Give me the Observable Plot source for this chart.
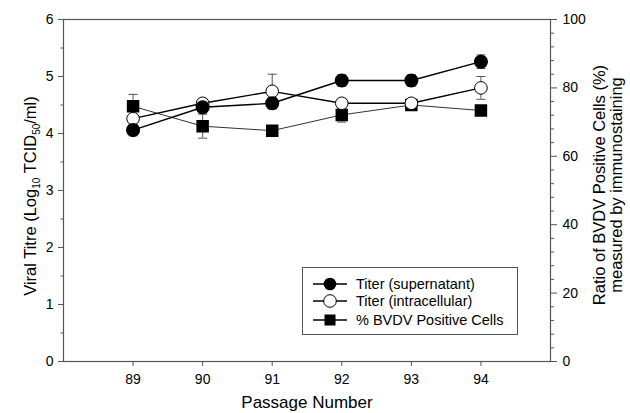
<!DOCTYPE html>
<html>
<head>
<meta charset="utf-8">
<script src="https://cdn.jsdelivr.net/npm/d3@7"></script>
<script src="https://cdn.jsdelivr.net/npm/@observablehq/plot@0.6"></script>
<style>
  html, body { margin: 0; padding: 0; background: #fff; }
  #chart { width: 630px; height: 413px; }
</style>
</head>
<body>
<div id="chart"></div>
<script>
// ---- data ----
const passages = [89, 90, 91, 92, 93, 94];
const titerSup = [4.06, 4.46, 4.53, 4.93, 4.93, 5.26];
const titerSupErr = [0.1, 0.1, 0.1, 0.1, 0.1, 0.12];
const titerInt = [4.26, 4.53, 4.74, 4.53, 4.53, 4.80];
const titerIntErr = [0.05, 0.08, 0.3, 0.08, 0.08, 0.2];
const pctPos = [74.6, 68.8, 67.5, 72.1, 75.0, 73.4];
const pctPosErr = [3.5, 3.5, 0.5, 2.1, 1.0, 0.3];
const xTicks = [89, 90, 91, 92, 93, 94];
const leftTicks = [0, 1, 2, 3, 4, 5, 6];
const rightTicks = [0, 20, 40, 60, 80, 100];
const legendLabels = ["Titer (supernatant)", "Titer (intracellular)", "% BVDV Positive Cells"];

const LEFT_MAX = 6, RIGHT_MAX = 100;
const toLeft = p => p * LEFT_MAX / RIGHT_MAX;

const sup = passages.map((x, i) => ({x, y: titerSup[i], lo: titerSup[i] - titerSupErr[i], hi: titerSup[i] + titerSupErr[i]}));
const intra = passages.map((x, i) => ({x, y: titerInt[i], lo: titerInt[i] - titerIntErr[i], hi: titerInt[i] + titerIntErr[i]}));
const pct = passages.map((x, i) => ({x, y: toLeft(pctPos[i]), lo: toLeft(pctPos[i] - pctPosErr[i]), hi: toLeft(pctPos[i] + pctPosErr[i])}));

const capSymbol = { draw(ctx, size) { const w = Math.sqrt(size / Math.PI); ctx.moveTo(-w, 0); ctx.lineTo(w, 0); } };

const errMarks = (data) => [
  Plot.ruleX(data, {x: "x", y1: "lo", y2: "hi", stroke: "#555", strokeWidth: 1}),
  Plot.dot(data, {x: "x", y: "lo", symbol: capSymbol, r: 4.5, stroke: "#555", strokeWidth: 1}),
  Plot.dot(data, {x: "x", y: "hi", symbol: capSymbol, r: 4.5, stroke: "#555", strokeWidth: 1})
];

const FONT = "'Liberation Sans', Arial, sans-serif";
const leftMinor = d3.range(0.5, 6, 1);
const rightMinor = d3.range(0, 101, 4).filter(v => v % 20 !== 0).map(toLeft);

const plot = Plot.plot({
  width: 630,
  height: 413,
  marginLeft: 63,
  marginRight: 80,
  marginTop: 19,
  marginBottom: 52,
  style: { fontFamily: FONT, fontSize: "14px", color: "#000", background: "#fff" },
  x: { domain: [88, 95] },
  y: { domain: [0, LEFT_MAX] },
  marks: [
    Plot.frame({stroke: "#555", strokeWidth: 1.2}),
    Plot.axisX(xTicks, {anchor: "bottom", tickSize: 5, tickPadding: 8, stroke: "#555", label: null, fontSize: 14, tickFormat: d => String(d)}),
    Plot.axisY(leftTicks, {anchor: "left", tickSize: 5, tickPadding: 5, stroke: "#555", label: null, fontSize: 14, tickFormat: d => String(d)}),
    Plot.axisY(leftMinor, {anchor: "left", tickSize: 2.5, stroke: "#555", label: null, tickFormat: () => ""}),
    Plot.axisY(rightTicks.map(toLeft), {anchor: "right", tickSize: 6, tickPadding: 6, stroke: "#555", label: null, fontSize: 14, tickFormat: d => String(Math.round(d * RIGHT_MAX / LEFT_MAX))}),
    Plot.axisY(rightMinor, {anchor: "right", tickSize: 3, stroke: "#555", label: null, tickFormat: () => ""}),
    ...errMarks(pct),
    ...errMarks(intra),
    ...errMarks(sup),
    Plot.line(pct, {x: "x", y: "y", stroke: "#333", strokeWidth: 1}),
    Plot.line(intra, {x: "x", y: "y", stroke: "#000", strokeWidth: 1.4}),
    Plot.line(sup, {x: "x", y: "y", stroke: "#000", strokeWidth: 1.4}),
    Plot.dot(pct, {x: "x", y: "y", symbol: "square", r: 6.2, fill: "#000", stroke: "#000"}),
    Plot.dot(intra, {x: "x", y: "y", symbol: "circle", r: 6.3, fill: "#fff", stroke: "#000", strokeWidth: 1}),
    Plot.dot(sup, {x: "x", y: "y", symbol: "circle", r: 6.3, fill: "#000", stroke: "#000"})
  ]
});

document.getElementById("chart").appendChild(plot);

// ---- titles and legend drawn into the SVG ----
const svg = d3.select(plot);
const tt = svg.append("g").attr("font-family", FONT).attr("fill", "#000");

// left axis title with subscripts
const lt = tt.append("text")
  .attr("transform", "translate(36,196) rotate(-90)")
  .attr("text-anchor", "middle")
  .attr("font-size", 16.5);
lt.append("tspan").text("Viral Titre (Log");
lt.append("tspan").attr("font-size", 10).attr("dy", 4).text("10");
lt.append("tspan").attr("dy", -4).text(" TCID");
lt.append("tspan").attr("font-size", 10).attr("dy", 4).text("50");
lt.append("tspan").attr("dy", -4).text("/ml)");

// right axis title (two lines)
const rt = tt.append("g").attr("transform", "translate(605,185) rotate(-90)")
  .attr("text-anchor", "middle").attr("font-size", 16.5);
rt.append("text").attr("y", 0).text("Ratio of BVDV Positive Cells (%)");
rt.append("text").attr("y", 17).text("measured by immunostaining");

// x axis title
tt.append("text").attr("x", 307).attr("y", 408).attr("text-anchor", "middle")
  .attr("font-size", 17).text("Passage Number");

// legend
const lg = svg.append("g").attr("font-family", FONT).attr("font-size", 14.5).attr("text-anchor", "start");
lg.append("rect").attr("x", 302.5).attr("y", 267.5).attr("width", 215).attr("height", 67)
  .attr("fill", "#fff").attr("stroke", "#555").attr("stroke-width", 1);
const rowsY = [284, 301, 320];
legendLabels.forEach((lab, i) => {
  const y = rowsY[i];
  lg.append("line").attr("x1", 313).attr("x2", 347).attr("y1", y).attr("y2", y)
    .attr("stroke", "#000").attr("stroke-width", 1.4);
  if (i === 0) lg.append("circle").attr("cx", 330).attr("cy", y).attr("r", 6.3).attr("fill", "#000");
  if (i === 1) lg.append("circle").attr("cx", 330).attr("cy", y).attr("r", 6.3).attr("fill", "#fff").attr("stroke", "#000");
  if (i === 2) lg.append("rect").attr("x", 324.5).attr("y", y - 5.5).attr("width", 11).attr("height", 11).attr("fill", "#000");
  lg.append("text").attr("x", 356).attr("y", y).attr("dy", "0.35em").attr("text-anchor", "start").text(lab);
});
</script>
</body>
</html>
